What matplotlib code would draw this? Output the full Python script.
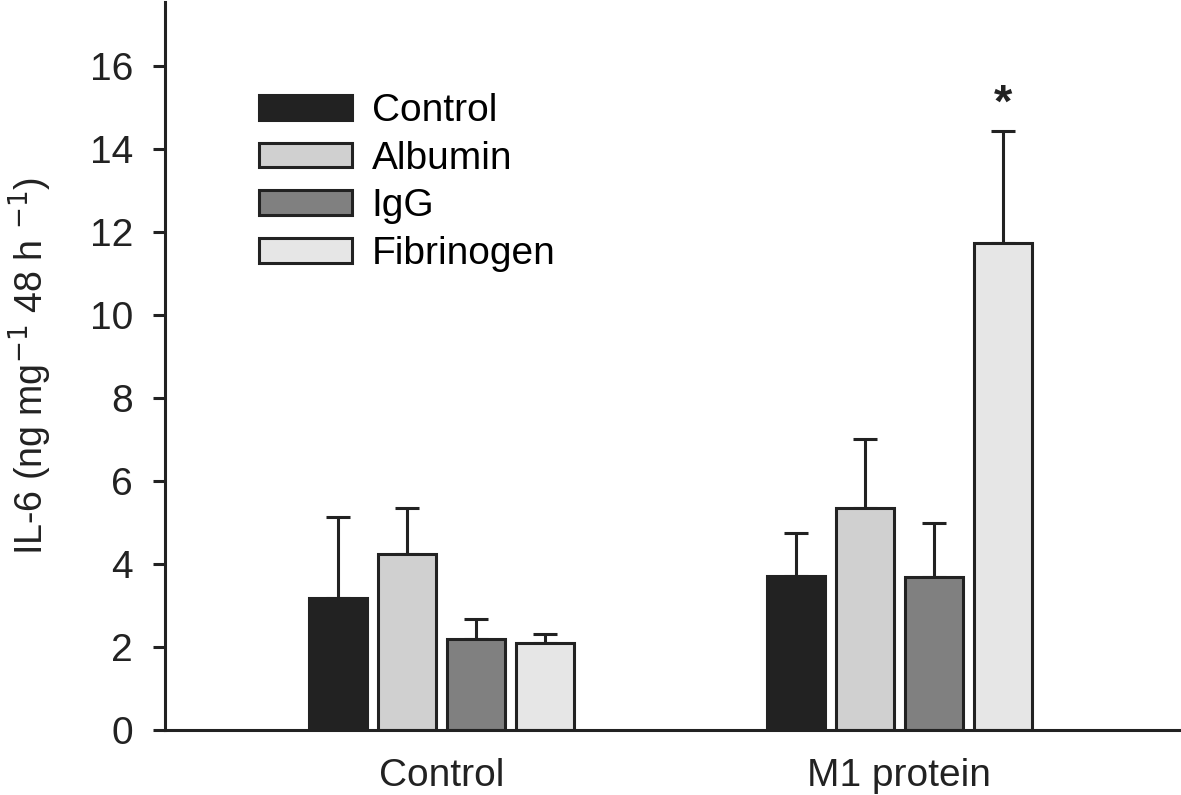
"""IL-6 release bar chart with error bars"""

import matplotlib.pyplot as plt
import numpy as np

plt.rcParams["font.family"] = ["Liberation Sans", "DejaVu Sans"]

groups = ["Control", "M1 protein"]
series = ["Control", "Albumin", "IgG", "Fibrinogen"]
means = {
    "Control": [3.17, 3.71],
    "Albumin": [4.24, 5.35],
    "IgG": [2.19, 3.68],
    "Fibrinogen": [2.09, 11.73],
}
errors = {
    "Control": [1.96, 1.04],
    "Albumin": [1.10, 1.66],
    "IgG": [0.48, 1.31],
    "Fibrinogen": [0.23, 2.70],
}
colors = {
    "Control": "#222222",
    "Albumin": "#d0d0d0",
    "IgG": "#808080",
    "Fibrinogen": "#e6e6e6",
}
y_ticks = [0, 2, 4, 6, 8, 10, 12, 14, 16]
significant = (1, "Fibrinogen")

EDGE = "#222222"
FS = 28
step = 0.1507
width = 0.1266

fig = plt.figure(figsize=(11.81, 7.95), dpi=100)
ax = fig.add_axes([0.1397, 0.0818, 0.8603, 0.9157])

x = np.arange(len(groups))
for i, name in enumerate(series):
    pos = x + (i - 1.5) * step
    ax.bar(
        pos, means[name], width, color=colors[name], edgecolor=EDGE,
        linewidth=2.2, label=name, zorder=2,
    )
    ax.errorbar(
        pos, means[name], yerr=[np.zeros(len(groups)), errors[name]],
        fmt="none", ecolor=EDGE, elinewidth=2.2, capsize=8.5, capthick=2.2,
        zorder=1,
    )

# significance marker above the error bar
g, name = significant
k = series.index(name)
ax.annotate(
    "*", (x[g] + (k - 1.5) * step, means[name][g] + errors[name][g]),
    xytext=(0, 3), textcoords="offset points", ha="center", va="bottom",
    fontsize=34, fontweight="bold", color=EDGE,
)

ax.set_xlim(-0.604, 1.615)
ax.set_ylim(0, 17.54)
ax.set_yticks(y_ticks)
ax.set_xticks(x)
ax.set_xticklabels(groups)
ax.tick_params(axis="x", length=0, pad=20, labelsize=FS, colors=EDGE)
ax.tick_params(axis="y", length=9, width=2.2, pad=14, labelsize=FS, colors=EDGE)
for side in ("top", "right"):
    ax.spines[side].set_visible(False)
for side in ("left", "bottom"):
    ax.spines[side].set_linewidth(2.2)
    ax.spines[side].set_color(EDGE)

ax.set_ylabel(r"IL-6 (ng mg$^{-1}$ 48 h $^{-1}$)", fontsize=27, color=EDGE,
              labelpad=26)

ax.legend(
    loc="upper left", bbox_to_anchor=(259 / 1181, 1 - 93 / 795),
    bbox_transform=fig.transFigure, frameon=False, fontsize=FS,
    handlelength=2.39, handleheight=0.59, handletextpad=0.51,
    labelspacing=0.3, borderpad=0, borderaxespad=0,
)

fig.savefig("out.png", dpi=100)
